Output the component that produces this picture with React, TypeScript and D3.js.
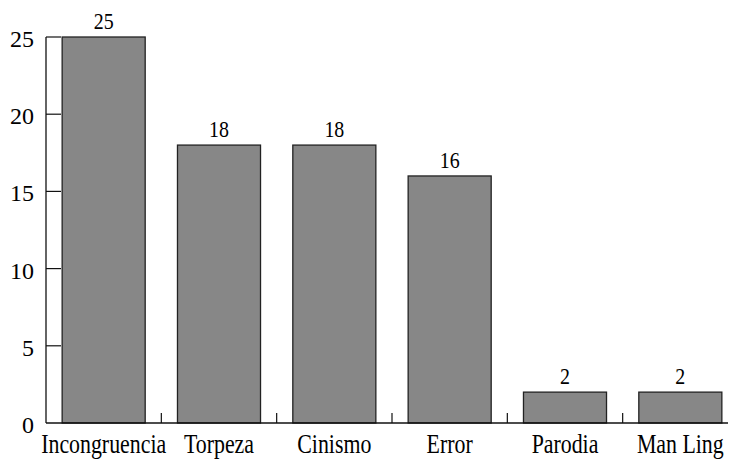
import React from "react";
import * as d3 from "d3";

const categories = ["Incongruencia", "Torpeza", "Cinismo", "Error", "Parodia", "Man Ling"];
const values = [25, 18, 18, 16, 2, 2];
const yTicks = [0, 5, 10, 15, 20, 25];

const W = 736, H = 460;
const M = 8; // body margin compensation
const left = 46 - M, right = 738 - M, top = 37 - M, bottom = 423 - M;
const ff = "'Liberation Serif'";

export default function App() {
  const x = d3.scaleBand<string>().domain(categories).range([left, right]).padding(0);
  const y = d3.scaleLinear().domain([0, 25]).range([bottom, top]);
  const bw = x.bandwidth() * 0.72;
  const off = (x.bandwidth() - bw) / 2;
  return (
    <svg width={W} height={H}>
      {categories.map((c, i) => {
        const cx = x(c)! + x.bandwidth() / 2;
        return (
          <g key={c}>
            <rect x={x(c)! + off} y={y(values[i])} width={bw} height={bottom - y(values[i])}
              fill="#878787" stroke="#222" strokeWidth={1.3} />
            <text transform={`translate(${cx},${y(values[i]) - 8}) scale(0.83,1)`} textAnchor="middle"
              style={{ fontFamily: ff, fontSize: 24 }}>{values[i]}</text>
            <text transform={`translate(${cx},${bottom + 30}) scale(0.81,1)`} textAnchor="middle"
              style={{ fontFamily: ff, fontSize: 27 }}>{c}</text>
            {i > 0 && <line x1={x(c)!} x2={x(c)!} y1={bottom} y2={bottom - 10} stroke="#111" strokeWidth={1.2} />}
          </g>
        );
      })}
      {yTicks.map(t => (
        <g key={t}>
          {t > 0 && t < 25 && <line x1={left} x2={left + 15} y1={y(t)} y2={y(t)} stroke="#111" strokeWidth={1.2} />}
          <text x={34 - M} y={y(t) + 10} textAnchor="end" style={{ fontFamily: ff, fontSize: 24 }}>{t}</text>
        </g>
      ))}
      <line x1={left} x2={left} y1={top} y2={bottom} stroke="#111" strokeWidth={1.3} />
      <line x1={left} x2={left + 15} y1={top} y2={top} stroke="#111" strokeWidth={1.2} />
      <line x1={left} x2={W} y1={bottom} y2={bottom} stroke="#111" strokeWidth={1.3} />
    </svg>
  );
}
